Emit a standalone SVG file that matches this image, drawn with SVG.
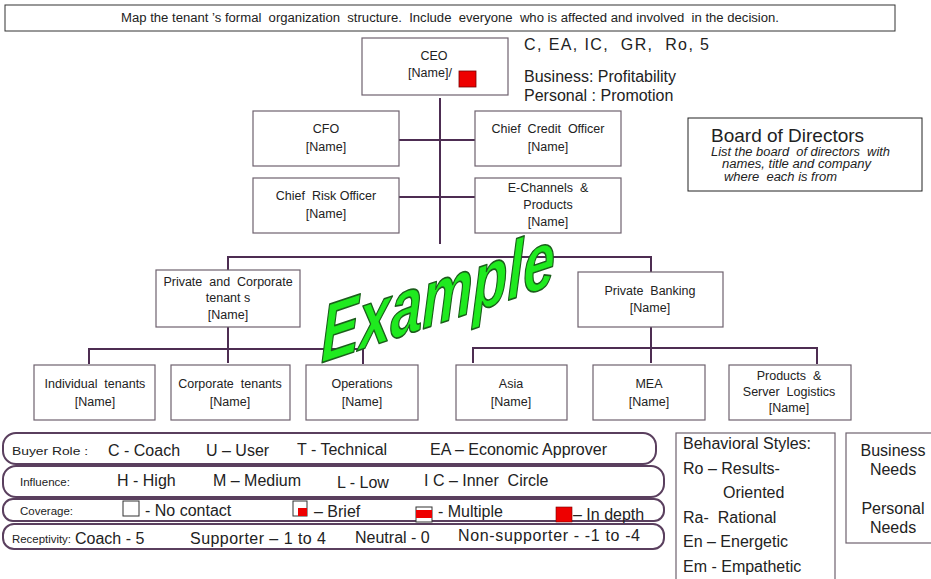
<svg xmlns="http://www.w3.org/2000/svg" width="931" height="579" viewBox="0 0 931 579" xml:space="preserve">
  <style>
    text { font-family: "Liberation Sans", Arial, sans-serif; fill: #222; white-space: pre; }
    .box { fill: #fff; stroke: #6e626e; stroke-width: 1.2; }
    .lbl { font-size: 12.5px; text-anchor: middle; }
    .conn { fill: none; stroke: #4d2d52; stroke-width: 2; }
    .band { fill: #fff; stroke: #5a3f5e; stroke-width: 2; }
    .small { font-size: 11.5px; }
    .mid { font-size: 16px; }
    .big { font-size: 16px; }
    .note { font-size: 12px; font-style: italic; }
  </style>

  <rect width="931" height="579" fill="#fff"/>

  <!-- heading -->
  <g id="heading">
    <rect x="5" y="5" width="890" height="26" fill="#fff" stroke="#333" stroke-width="1"/>
    <text x="450" y="22" font-size="12" text-anchor="middle" textLength="658" lengthAdjust="spacingAndGlyphs">Map the tenant ’s formal  organization  structure.  Include  everyone  who is affected and involved  in the decision.</text>
  </g>

  <!-- connectors -->
  <g id="connectors">
    <path class="conn" d="M440 98 V244"/>
    <path class="conn" d="M399 140 H475"/>
    <path class="conn" d="M399 197 H475"/>
    <path class="conn" d="M228 270 V257 H651 V272"/>
    <path class="conn" d="M228 327 V363"/>
    <path class="conn" d="M89 364 V349 H363 V364"/>
    <path class="conn" d="M651 327 V363"/>
    <path class="conn" d="M473 363 V348 H817 V364"/>
  </g>

  <!-- executive level -->
  <g id="ceo">
    <rect class="box" x="362" y="38" width="146" height="57"/>
    <text class="lbl" x="434" y="60">CEO</text>
    <text class="lbl" x="430" y="77">[Name]/</text>
    <rect x="459" y="71" width="17" height="16" fill="#e00" stroke="#700" stroke-width="0.8"/>
  </g>
  <g id="ceo-notes">
    <text x="524" y="50" class="big" textLength="185">C, EA, IC,  GR,  Ro, 5</text>
    <text x="524" y="82" class="big">Business: Profitability</text>
    <text x="524" y="101" class="big">Personal : Promotion</text>
  </g>

  <g id="cfo">
    <rect class="box" x="253" y="111" width="146" height="55"/>
    <text class="lbl" x="326" y="133">CFO</text>
    <text class="lbl" x="326" y="151">[Name]</text>
  </g>
  <g id="cco">
    <rect class="box" x="475" y="111" width="146" height="55"/>
    <text class="lbl" x="548" y="133">Chief  Credit  Officer</text>
    <text class="lbl" x="548" y="151">[Name]</text>
  </g>
  <g id="cro">
    <rect class="box" x="253" y="178" width="146" height="55"/>
    <text class="lbl" x="326" y="200">Chief  Risk Officer</text>
    <text class="lbl" x="326" y="218">[Name]</text>
  </g>
  <g id="echannels">
    <rect class="box" x="475" y="178" width="146" height="55"/>
    <text class="lbl" x="548" y="192">E-Channels  &amp;</text>
    <text class="lbl" x="548" y="209">Products</text>
    <text class="lbl" x="548" y="226">[Name]</text>
  </g>

  <g id="board">
    <rect x="688" y="118" width="234" height="73" fill="#fff" stroke="#222" stroke-width="1"/>
    <text x="711" y="142" font-size="19">Board of Directors</text>
    <text class="note" x="711" y="156" textLength="179" lengthAdjust="spacingAndGlyphs">List the board  of directors  with</text>
    <text class="note" x="722" y="168" textLength="149" lengthAdjust="spacingAndGlyphs">names, title and company</text>
    <text class="note" x="724" y="181" textLength="113" lengthAdjust="spacingAndGlyphs">where  each is from</text>
  </g>

  <!-- divisions -->
  <g id="private-corporate">
    <rect class="box" x="156" y="270" width="144" height="57"/>
    <text class="lbl" x="228" y="286">Private  and  Corporate</text>
    <text class="lbl" x="228" y="302">tenant s</text>
    <text class="lbl" x="228" y="319">[Name]</text>
  </g>
  <g id="private-banking">
    <rect class="box" x="578" y="272" width="145" height="55"/>
    <text class="lbl" x="650" y="295">Private  Banking</text>
    <text class="lbl" x="650" y="312">[Name]</text>
  </g>

  <!-- units -->
  <g id="individual">
    <rect class="box" x="34" y="365" width="121" height="55"/>
    <text class="lbl" x="95" y="388">Individual  tenants</text>
    <text class="lbl" x="95" y="406">[Name]</text>
  </g>
  <g id="corporate">
    <rect class="box" x="171" y="365" width="119" height="55"/>
    <text class="lbl" x="230" y="388">Corporate  tenants</text>
    <text class="lbl" x="230" y="406">[Name]</text>
  </g>
  <g id="operations">
    <rect class="box" x="306" y="365" width="112" height="55"/>
    <text class="lbl" x="362" y="388">Operations</text>
    <text class="lbl" x="362" y="406">[Name]</text>
  </g>
  <g id="asia">
    <rect class="box" x="456" y="365" width="111" height="55"/>
    <text class="lbl" x="511" y="388">Asia</text>
    <text class="lbl" x="511" y="406">[Name]</text>
  </g>
  <g id="mea">
    <rect class="box" x="593" y="365" width="112" height="55"/>
    <text class="lbl" x="649" y="388">MEA</text>
    <text class="lbl" x="649" y="406">[Name]</text>
  </g>
  <g id="products-logistics">
    <rect class="box" x="729" y="365" width="122" height="55"/>
    <text class="lbl" x="789" y="380">Products  &amp;</text>
    <text class="lbl" x="789" y="396">Server  Logistics</text>
    <text class="lbl" x="789" y="412">[Name]</text>
  </g>

  <!-- legend bands -->
  <g id="buyer-role">
    <rect class="band" x="3" y="433" width="653" height="31" rx="13"/>
    <text class="small" x="12" y="455" font-size="12.5" textLength="76" lengthAdjust="spacingAndGlyphs">Buyer Role :</text>
    <text class="mid" x="108" y="456">C - Coach</text>
    <text class="mid" x="206" y="456">U – User</text>
    <text class="mid" x="297" y="455">T - Technical</text>
    <text class="mid" x="430" y="455">EA – Economic Approver</text>
  </g>
  <g id="influence">
    <rect class="band" x="3" y="466" width="661" height="31" rx="13"/>
    <text class="small" x="20" y="486">Influence:</text>
    <text class="mid" x="117" y="486">H - High</text>
    <text class="mid" x="213" y="486">M – Medium</text>
    <text class="mid" x="337" y="488">L - Low</text>
    <text class="mid" x="424" y="486">I C – Inner  Circle</text>
  </g>
  <g id="coverage">
    <rect class="band" x="3" y="499" width="661" height="22" rx="10"/>
    <text class="small" x="20" y="515">Coverage:</text>
    <rect x="123" y="501" width="16" height="15" fill="#fff" stroke="#333" stroke-width="1"/>
    <text class="mid" x="145" y="516">- No contact</text>
    <rect x="293" y="501" width="14" height="15" fill="#fff" stroke="#333" stroke-width="1"/>
    <rect x="298" y="508" width="9" height="8" fill="#e00"/>
    <text class="mid" x="314" y="517">– Brief</text>
    <rect x="416" y="507" width="16" height="15" fill="#fff" stroke="#333" stroke-width="1"/>
    <rect x="416" y="510" width="16" height="8" fill="#e00"/>
    <text class="mid" x="438" y="517">- Multiple</text>
    <rect x="556" y="507" width="16" height="15" fill="#e00" stroke="#700" stroke-width="0.6"/>
    <text class="mid" x="573" y="520">– In depth</text>
  </g>
  <g id="receptivity">
    <rect class="band" x="3" y="524" width="661" height="25" rx="11"/>
    <text class="small" x="12" y="543" textLength="59" lengthAdjust="spacingAndGlyphs">Receptivity:</text>
    <text class="mid" x="75" y="544">Coach - 5</text>
    <text class="mid" x="190" y="544" textLength="136">Supporter – 1 to 4</text>
    <text class="mid" x="355" y="543">Neutral - 0</text>
    <text class="mid" x="458" y="541" textLength="182">Non-supporter - -1 to -4</text>
  </g>

  <g id="behavioral-styles">
    <rect x="676" y="433" width="159" height="150" fill="#fff" stroke="#6e626e" stroke-width="1.2"/>
    <text class="mid" x="683" y="449">Behavioral Styles:</text>
    <text class="mid" x="683" y="474">Ro – Results-</text>
    <text class="mid" x="723" y="498">Oriented</text>
    <text class="mid" x="683" y="523">Ra-  Rational</text>
    <text class="mid" x="683" y="547">En – Energetic</text>
    <text class="mid" x="683" y="572">Em - Empathetic</text>
  </g>
  <g id="needs">
    <rect x="846" y="433" width="90" height="110" fill="#fff" stroke="#6e626e" stroke-width="1.2"/>
    <text class="mid" x="893" y="456" text-anchor="middle">Business</text>
    <text class="mid" x="893" y="475" text-anchor="middle">Needs</text>
    <text class="mid" x="893" y="514" text-anchor="middle">Personal</text>
    <text class="mid" x="893" y="533" text-anchor="middle">Needs</text>
  </g>

  <!-- watermark word -->
  <g id="example" transform="translate(321,363) skewY(-18.5) scale(0.72,1.03)">
    <text x="0" y="0" font-size="79" font-weight="bold" font-style="italic" style="fill:#1fea1f" stroke="#1b5e1b" stroke-width="1.6" stroke-linejoin="round">Example</text>
  </g>
</svg>
